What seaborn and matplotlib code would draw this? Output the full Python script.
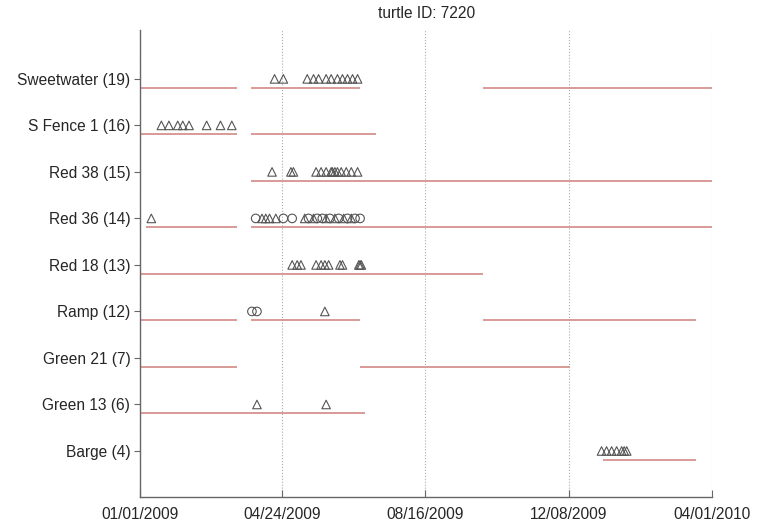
import pandas as pd
import seaborn as sns
import matplotlib.pyplot as plt
import matplotlib.dates as mdates

sites = ["Sweetwater (19)", "S Fence 1 (16)", "Red 38 (15)", "Red 36 (14)",
         "Red 18 (13)", "Ramp (12)", "Green 21 (7)", "Green 13 (6)", "Barge (4)"]

# receiver deployment periods (start, end)
deployments = {
    "Sweetwater (19)": [("2009-01-01", "2009-03-19"), ("2009-03-30", "2009-06-25"), ("2009-10-01", "2010-04-01")],
    "S Fence 1 (16)": [("2009-01-01", "2009-03-19"), ("2009-03-30", "2009-07-08")],
    "Red 38 (15)": [("2009-03-30", "2010-04-01")],
    "Red 36 (14)": [("2009-01-06", "2009-03-19"), ("2009-03-30", "2010-04-01")],
    "Red 18 (13)": [("2009-01-01", "2009-10-01")],
    "Ramp (12)": [("2009-01-01", "2009-03-19"), ("2009-03-30", "2009-06-25"), ("2009-10-01", "2010-03-19")],
    "Green 21 (7)": [("2009-01-01", "2009-03-19"), ("2009-06-25", "2009-12-09")],
    "Green 13 (6)": [("2009-01-01", "2009-06-29")],
    "Barge (4)": [("2010-01-04", "2010-03-19")],
}

# detections (triangles)
tri_hits = {
    "Sweetwater (19)": ["2009-04-18", "2009-04-25", "2009-05-14", "2009-05-19", "2009-05-23", "2009-05-29",
                        "2009-06-02", "2009-06-07", "2009-06-11", "2009-06-15", "2009-06-19", "2009-06-23"],
    "S Fence 1 (16)": ["2009-01-18", "2009-01-24", "2009-01-31", "2009-02-04", "2009-02-09",
                       "2009-02-23", "2009-03-06", "2009-03-15"],
    "Red 38 (15)": ["2009-04-16", "2009-05-01", "2009-05-03", "2009-05-21", "2009-05-25", "2009-05-29",
                    "2009-06-02", "2009-06-03", "2009-06-05", "2009-06-07", "2009-06-10", "2009-06-14",
                    "2009-06-18", "2009-06-23"],
    "Red 36 (14)": ["2009-01-10", "2009-04-08", "2009-04-11", "2009-04-14", "2009-04-19", "2009-05-12",
                    "2009-05-19", "2009-05-29", "2009-06-05", "2009-06-12", "2009-06-18"],
    "Red 18 (13)": ["2009-05-02", "2009-05-06", "2009-05-09", "2009-05-21", "2009-05-25", "2009-05-28",
                    "2009-05-31", "2009-06-09", "2009-06-11", "2009-06-24", "2009-06-25", "2009-06-26"],
    "Ramp (12)": ["2009-05-28"],
    "Green 13 (6)": ["2009-04-04", "2009-05-29"],
    "Barge (4)": ["2010-01-03", "2010-01-07", "2010-01-11", "2010-01-15", "2010-01-19", "2010-01-21",
                  "2010-01-23"],
}

# detections (circles)
circ_hits = {
    "Red 36 (14)": ["2009-04-03", "2009-04-25", "2009-05-02", "2009-05-15", "2009-05-22", "2009-05-26",
                    "2009-06-01", "2009-06-08", "2009-06-15", "2009-06-21", "2009-06-25"],
    "Ramp (12)": ["2009-03-31", "2009-04-04"],
}

tick_labels = ["01/01/2009", "04/24/2009", "08/16/2009", "12/08/2009", "04/01/2010"]

ypos = {s: len(sites) - i for i, s in enumerate(sites)}

rows = []
for kind, hits in [("tri", tri_hits), ("circ", circ_hits)]:
    for site, dates in hits.items():
        for d in dates:
            rows.append({"date": pd.Timestamp(d), "y": ypos[site], "kind": kind})
det = pd.DataFrame(rows)

sns.set_style("white")
plt.rcParams['font.family'] = ['Liberation Sans', 'DejaVu Sans']

fig = plt.figure(figsize=(7.65, 5.27), dpi=100)
ax = fig.add_axes([0.183, 0.056, 0.748, 0.887])

for site, segs in deployments.items():
    for start, end in segs:
        ax.hlines(ypos[site] - 0.19, pd.Timestamp(start), pd.Timestamp(end),
                  color="#d89a96", linewidth=1.4, zorder=2)

sns.scatterplot(data=det, x="date", y="y", style="kind", markers={"tri": "^", "circ": "o"},
                s=38, facecolor="none", edgecolor="#555555", linewidth=0.8,
                legend=False, ax=ax, zorder=3)

ticks = [pd.to_datetime(t, format="%m/%d/%Y") for t in tick_labels]
ax.set_xlim(ticks[0], ticks[-1])
ax.set_xticks(ticks)
ax.xaxis.set_major_formatter(mdates.DateFormatter("%m/%d/%Y"))
ax.set_ylim(0, 10.05)
ax.set_yticks([ypos[s] for s in sites])
ax.set_yticklabels(sites)
ax.set_xlabel("")
ax.set_ylabel("")

ax.grid(axis="x", linestyle=":", color="#aaaaaa", linewidth=0.8)
ax.grid(axis="y", visible=False)
sns.despine(ax=ax, top=True, right=True)
for sp in ["left", "bottom"]:
    ax.spines[sp].set_color("#666666")
    ax.spines[sp].set_linewidth(1.0)

ax.tick_params(axis="y", direction="out", length=4, color="#666666", labelsize=11.2, pad=3, left=True)
ax.tick_params(axis="x", direction="in", length=5, color="#666666", labelsize=11.2, pad=7, bottom=True)

ax.set_title("turtle ID: 7220", fontsize=11.2, pad=9)

fig.savefig("out.png", dpi=100)
